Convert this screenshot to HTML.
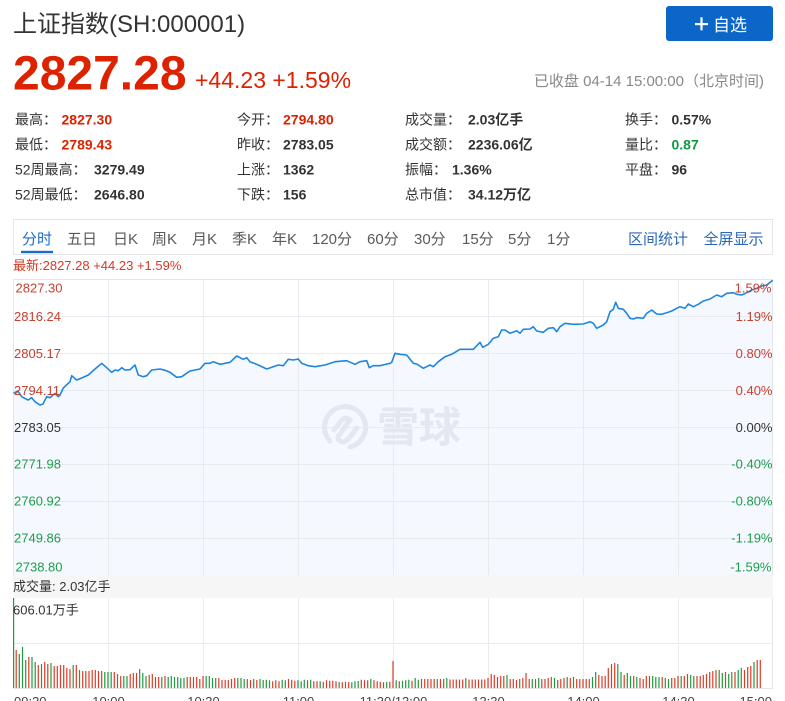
<!DOCTYPE html>
<html><head><meta charset="utf-8">
<style>
html,body{margin:0;padding:0;background:#fff;width:785px;height:701px;overflow:hidden}
svg{display:block}
text{font-family:"Liberation Sans","Noto Sans CJK SC",sans-serif}
.lb{font-size:14px;fill:#333}
.vb{font-size:14px;fill:#333;font-weight:bold}
.tab{font-size:15px;fill:#5a5a5a}
.ax{font-size:13px}
.r{fill:#c8402e}
.g{fill:#1f9d4a}
.tm{font-size:13px;fill:#444}
</style></head><body>
<svg width="785" height="701" viewBox="0 0 785 701" xmlns="http://www.w3.org/2000/svg">
<!-- header -->
<text x="13" y="32" style="font-size:24px;fill:#333">上证指数(SH:000001)</text>
<rect x="666" y="6" width="107" height="35" rx="3" fill="#0b66c8"/>
<rect x="695" y="23" width="13" height="2.2" fill="#fff"/>
<rect x="700.4" y="17.3" width="2.2" height="13" fill="#fff"/>
<text x="713" y="31" style="font-size:17px;fill:#fff">自选</text>
<text x="13" y="89.5" style="font-size:48px;font-weight:bold;fill:#dd2200">2827.28</text>
<text x="195" y="88" style="font-size:23px;fill:#dd2200">+44.23 +1.59%</text>
<text x="764" y="86" text-anchor="end" style="font-size:15px;fill:#888">已收盘 04-14 15:00:00（北京时间)</text>

<!-- stats -->
<text class="lb" x="15" y="124.5">最高：</text><text class="vb" x="61.5" y="124.5" style="fill:#dd2200">2827.30</text>
<text class="lb" x="15" y="149.5">最低：</text><text class="vb" x="61.5" y="149.5" style="fill:#dd2200">2789.43</text>
<text class="lb" x="15" y="174.5">52周最高：</text><text class="vb" x="94" y="174.5">3279.49</text>
<text class="lb" x="15" y="199.5">52周最低：</text><text class="vb" x="94" y="199.5">2646.80</text>

<text class="lb" x="237" y="124.5">今开：</text><text class="vb" x="283" y="124.5" style="fill:#dd2200">2794.80</text>
<text class="lb" x="237" y="149.5">昨收：</text><text class="vb" x="283" y="149.5">2783.05</text>
<text class="lb" x="237" y="174.5">上涨：</text><text class="vb" x="283" y="174.5">1362</text>
<text class="lb" x="237" y="199.5">下跌：</text><text class="vb" x="283" y="199.5">156</text>

<text class="lb" x="405" y="124.5">成交量：</text><text class="vb" x="468" y="124.5">2.03亿手</text>
<text class="lb" x="405" y="149.5">成交额：</text><text class="vb" x="468" y="149.5">2236.06亿</text>
<text class="lb" x="405" y="174.5">振幅：</text><text class="vb" x="452" y="174.5">1.36%</text>
<text class="lb" x="405" y="199.5">总市值：</text><text class="vb" x="468" y="199.5">34.12万亿</text>

<text class="lb" x="625" y="124.5">换手：</text><text class="vb" x="671.5" y="124.5">0.57%</text>
<text class="lb" x="625" y="149.5">量比：</text><text class="vb" x="671.5" y="149.5" style="fill:#119944">0.87</text>
<text class="lb" x="625" y="174.5">平盘：</text><text class="vb" x="671.5" y="174.5">96</text>

<!-- tabs -->
<rect x="13.5" y="219.5" width="759" height="35" fill="#fff" stroke="#e6e6e6"/>
<text class="tab" x="22" y="244" style="fill:#1a6ec9">分时</text>
<rect x="21" y="250.8" width="32" height="2.4" fill="#1a6ec9"/>
<text class="tab" x="67" y="244">五日</text>
<text class="tab" x="113" y="244">日K</text>
<text class="tab" x="152" y="244">周K</text>
<text class="tab" x="192" y="244">月K</text>
<text class="tab" x="232" y="244">季K</text>
<text class="tab" x="272" y="244">年K</text>
<text class="tab" x="312" y="244">120分</text>
<text class="tab" x="367" y="244">60分</text>
<text class="tab" x="414" y="244">30分</text>
<text class="tab" x="462" y="244">15分</text>
<text class="tab" x="508" y="244">5分</text>
<text class="tab" x="547" y="244">1分</text>
<text class="tab" x="628" y="244" style="fill:#2c67b3">区间统计</text>
<text class="tab" x="703.5" y="244" style="fill:#2c67b3">全屏显示</text>

<text x="13" y="270" style="font-size:13px;fill:#d23a26">最新:2827.28 +44.23 +1.59%</text>

<!-- price chart -->
<path d="M13.3 393.3L18 391L21.7 396.7L28 400L31.7 397.7L35 401.7L40 405L43 404L46.7 396.7L50 397.7L55 393.3L58.3 396.7L60 395L63.3 388L70 381.7L71.7 375.7L76.7 380L81.7 378L88.3 375L95 369L101.7 363.3L106.7 367.7L111.7 372.3L115 370L118.3 370.7L121.7 367.7L125 370L130 369.7L135 365L138.3 375L143.3 376.7L146.7 375.7L151.7 370L160 369L165 370.3L170 372.3L176.7 377.3L181.7 376.7L190 371L200 369L205 363.3L210 363.3L213.3 361.7L220 364.3L230 362.3L236.7 356L243.3 359.3L246.7 357.7L250 361.7L258.3 365L266.7 369L273.3 366.7L278.3 365L283.3 365.7L288.3 359.3L293.3 360L298.3 359L301.7 363.3L308.3 365.7L315 366.7L325 365L335 361.7L346.7 360.7L355 364.3L360 361.7L366.7 360.7L369.3 367.7L373.3 365.7L380 365.7L390 363.3L391.7 362.3L395 353.3L400 354.3L406.7 355L413.3 363.3L416.7 364L423.3 368.3L430 365L433.3 366.7L438.3 361.7L445 356.7L451.7 354.3L460 349.3L473.3 349.3L480 342.3L482.7 347.3L488.3 344.3L493.3 338.3L498.3 336.7L501.7 330L505 330L510 333.3L516.7 330.7L520 333.3L523.3 329.3L530 329L533.3 326.7L536.7 331L543.3 332.3L548.3 328.3L553.3 327.7L556.7 331.7L560 326.7L565 323.3L573.3 324.3L583.3 324L590 321.7L593.3 323.3L596.7 328.3L603.3 325L606.7 321.7L610 311.7L613.3 309.3L615.7 302.3L618.3 308.3L623.3 309.3L626.7 313.3L630 318.3L633.3 319L636.7 317.7L643.3 318.3L646.7 313.3L651.7 310L656.7 314L661.7 314.3L666.7 312.7L671.7 311L676.7 308.3L680 306.7L685 308.3L688.3 304L693.3 306.7L698.3 304.3L703.3 301L710 299L716.7 295L721.7 296.7L726.7 293.3L733.3 292.7L736.7 294.3L741.7 295L746.7 292.7L751.7 290L756.7 288.3L761.7 286L766.7 285L772.7 280.3L773 280L773 575L13 575Z" fill="#f5f8fe"/>
<g stroke="#e8ebf0" stroke-width="1" fill="none">
<path d="M13 316.5H773M13 353.5H773M13 390.5H773M13 427.5H773M13 464.5H773M13 501.5H773M13 538.5H773"/>
<path d="M108.5 279V575M203.5 279V575M298.5 279V575M393.5 279V575M488.5 279V575M583.5 279V575M678.5 279V575"/>
<path d="M108.5 598V688M203.5 598V688M298.5 598V688M393.5 598V688M488.5 598V688M583.5 598V688M678.5 598V688M13 643.5H773"/>
</g>
<g stroke="#e3e6ea" stroke-width="1" fill="none">
<path d="M13 279.5H773M13.5 279V688M772.5 279V688M13 688.5H773"/>
</g>
<!-- watermark -->
<g fill="none" stroke="#e3e7ef" stroke-width="5" stroke-linecap="round">
<path d="M330 441A20.5 20.5 0 1 1 350 447"/>
<path d="M334 430L342 420Q346 416 350 420L340 434Q336 438 340 441Q344 444 350 437L357 428"/>
</g>
<text x="377" y="442" style="font-size:42px;font-weight:bold;fill:#e3e7ef">雪球</text>

<path d="M13.3 393.3L18 391L21.7 396.7L28 400L31.7 397.7L35 401.7L40 405L43 404L46.7 396.7L50 397.7L55 393.3L58.3 396.7L60 395L63.3 388L70 381.7L71.7 375.7L76.7 380L81.7 378L88.3 375L95 369L101.7 363.3L106.7 367.7L111.7 372.3L115 370L118.3 370.7L121.7 367.7L125 370L130 369.7L135 365L138.3 375L143.3 376.7L146.7 375.7L151.7 370L160 369L165 370.3L170 372.3L176.7 377.3L181.7 376.7L190 371L200 369L205 363.3L210 363.3L213.3 361.7L220 364.3L230 362.3L236.7 356L243.3 359.3L246.7 357.7L250 361.7L258.3 365L266.7 369L273.3 366.7L278.3 365L283.3 365.7L288.3 359.3L293.3 360L298.3 359L301.7 363.3L308.3 365.7L315 366.7L325 365L335 361.7L346.7 360.7L355 364.3L360 361.7L366.7 360.7L369.3 367.7L373.3 365.7L380 365.7L390 363.3L391.7 362.3L395 353.3L400 354.3L406.7 355L413.3 363.3L416.7 364L423.3 368.3L430 365L433.3 366.7L438.3 361.7L445 356.7L451.7 354.3L460 349.3L473.3 349.3L480 342.3L482.7 347.3L488.3 344.3L493.3 338.3L498.3 336.7L501.7 330L505 330L510 333.3L516.7 330.7L520 333.3L523.3 329.3L530 329L533.3 326.7L536.7 331L543.3 332.3L548.3 328.3L553.3 327.7L556.7 331.7L560 326.7L565 323.3L573.3 324.3L583.3 324L590 321.7L593.3 323.3L596.7 328.3L603.3 325L606.7 321.7L610 311.7L613.3 309.3L615.7 302.3L618.3 308.3L623.3 309.3L626.7 313.3L630 318.3L633.3 319L636.7 317.7L643.3 318.3L646.7 313.3L651.7 310L656.7 314L661.7 314.3L666.7 312.7L671.7 311L676.7 308.3L680 306.7L685 308.3L688.3 304L693.3 306.7L698.3 304.3L703.3 301L710 299L716.7 295L721.7 296.7L726.7 293.3L733.3 292.7L736.7 294.3L741.7 295L746.7 292.7L751.7 290L756.7 288.3L761.7 286L766.7 285L772.7 280.3" fill="none" stroke="#1f86df" stroke-width="1.6" stroke-linejoin="round"/>

<!-- axis labels -->
<text class="ax r" x="15.5" y="292.3">2827.30</text>
<text class="ax r" x="14" y="321">2816.24</text>
<text class="ax r" x="14" y="358">2805.17</text>
<text class="ax r" x="14" y="395">2794.11</text>
<text class="ax" x="14" y="432" style="fill:#333">2783.05</text>
<text class="ax g" x="14" y="468.5">2771.98</text>
<text class="ax g" x="14" y="505.5">2760.92</text>
<text class="ax g" x="14" y="542.5">2749.86</text>
<text class="ax g" x="15.5" y="571.7">2738.80</text>

<text class="ax r" x="771.5" y="292.3" text-anchor="end">1.59%</text>
<text class="ax r" x="772.5" y="321" text-anchor="end">1.19%</text>
<text class="ax r" x="772.5" y="358" text-anchor="end">0.80%</text>
<text class="ax r" x="772.5" y="395" text-anchor="end">0.40%</text>
<text class="ax" x="772.5" y="432" text-anchor="end" style="fill:#333">0.00%</text>
<text class="ax g" x="772.5" y="468.5" text-anchor="end">-0.40%</text>
<text class="ax g" x="772.5" y="505.5" text-anchor="end">-0.80%</text>
<text class="ax g" x="772.5" y="542.5" text-anchor="end">-1.19%</text>
<text class="ax g" x="771.5" y="571.7" text-anchor="end">-1.59%</text>

<!-- volume band -->
<rect x="13" y="575" width="760" height="23" fill="#f6f6f6"/>
<text x="13" y="591" style="font-size:13px;fill:#333">成交量: 2.03亿手</text>

<!-- volume bars -->
<path stroke="#dc3b27" stroke-width="1.2" fill="none" d="M16.2 688v-38M28.8 688v-31M38.3 688v-23M44.7 688v-26M47.8 688v-24M54.2 688v-22M57.3 688v-22M60.5 688v-23M63.7 688v-23M66.8 688v-20M70 688v-19M76.3 688v-23M82.7 688v-17M85.8 688v-17M89 688v-17M92.2 688v-18M95.3 688v-18M98.5 688v-17M101.7 688v-17M114.3 688v-16M120.7 688v-12M130.2 688v-14M133.3 688v-15M136.5 688v-15M149.2 688v-13M152.3 688v-14M155.5 688v-11M158.7 688v-11M165 688v-12M187.2 688v-11M190.3 688v-11M193.5 688v-11M196.7 688v-11M199.8 688v-9M203 688v-12M218.8 688v-10M222 688v-8M225.2 688v-8M228.3 688v-8M231.5 688v-9M234.7 688v-10M247.3 688v-9M250.5 688v-8M256.8 688v-8M272.7 688v-6.7M275.8 688v-7.7M279 688v-6.7M288.5 688v-9M291.7 688v-8.3M294.8 688v-7.3M307.5 688v-7.7M313.8 688v-6.7M317 688v-6.7M323.3 688v-6.3M326.5 688v-7.7M329.7 688v-7.3M332.8 688v-7.3M336 688v-6.7M342.3 688v-5.7M345.5 688v-6.3M348.7 688v-6M361.3 688v-8.3M364.5 688v-7.7M367.7 688v-7.7M374 688v-7.7M377.2 688v-6.7M380.3 688v-6M383.5 688v-5.7M389.8 688v-6.3M393 688v-27M399.3 688v-6.7M412 688v-7.3M421.5 688v-9M424.7 688v-9M427.8 688v-9M431 688v-9M434.2 688v-9M440.5 688v-9M443.7 688v-9M450 688v-8.5M453.2 688v-8.5M456.3 688v-8.5M459.5 688v-8.5M462.7 688v-8.5M469 688v-8.5M472.2 688v-8.5M475.3 688v-8.5M478.5 688v-8.5M481.7 688v-8.5M484.8 688v-8.5M488 688v-10M491.2 688v-14M494.3 688v-13M497.5 688v-11M500.7 688v-12M503.8 688v-12M510.2 688v-9M513.3 688v-9M516.5 688v-8M522.8 688v-10M526 688v-15M529.2 688v-9M535.5 688v-9M541.8 688v-9M545 688v-9M548.2 688v-10M551.3 688v-11M557.7 688v-8M560.8 688v-9M564 688v-10M570.3 688v-10M576.7 688v-9M579.8 688v-9M583 688v-9M586.2 688v-9M589.3 688v-9M598.8 688v-13M602 688v-12M605.2 688v-12M608.3 688v-20M611.5 688v-24M614.7 688v-25M624.2 688v-13M633.7 688v-12M640 688v-10M643.2 688v-9M646.3 688v-12M649.5 688v-12M662.2 688v-11M671.7 688v-10M674.8 688v-10M678 688v-12M684.3 688v-12M687.5 688v-14M697 688v-12M700.2 688v-12M703.3 688v-13M706.5 688v-14M709.7 688v-16M712.8 688v-17M716 688v-18M725.5 688v-16M735 688v-16M744.5 688v-18M747.7 688v-21M750.8 688v-22M757.2 688v-28M760.3 688v-28"/>
<path stroke="#1f9b40" stroke-width="1.2" fill="none" d="M13.6 688v-90M19.3 688v-34M22.5 688v-41M25.7 688v-28M32 688v-31M35.2 688v-26M41.5 688v-24M51 688v-25M73.2 688v-23M79.5 688v-18M104.8 688v-16M108 688v-16M111.2 688v-16M117.5 688v-14M123.8 688v-12M127 688v-12M139.7 688v-19M142.8 688v-15M146 688v-12M161.8 688v-11M168.2 688v-11M171.3 688v-12M174.5 688v-11M177.7 688v-11M180.8 688v-10M184 688v-10M206.2 688v-12M209.3 688v-12M212.5 688v-10M215.7 688v-10M237.8 688v-10M241 688v-10M244.2 688v-9M253.7 688v-9M260 688v-9M263.2 688v-8M266.3 688v-8.3M269.5 688v-7.7M282.2 688v-8.3M285.3 688v-7.7M298 688v-7.7M301.2 688v-6.7M304.3 688v-8.3M310.7 688v-8.3M320.2 688v-6.7M339.2 688v-6M351.8 688v-5.7M355 688v-6.7M358.2 688v-7M370.8 688v-9M386.7 688v-6M396.2 688v-7.7M402.5 688v-7.3M405.7 688v-7.7M408.8 688v-8.3M415.2 688v-10M418.3 688v-8.3M437.3 688v-9M446.8 688v-10M465.8 688v-10M507 688v-13M519.7 688v-9M532.3 688v-9M538.7 688v-10M554.5 688v-10M567.2 688v-11M573.5 688v-11M592.5 688v-11M595.7 688v-16M617.8 688v-24M621 688v-16M627.3 688v-15M630.5 688v-12M636.8 688v-11M652.7 688v-12M655.8 688v-11M659 688v-11M665.3 688v-10M668.5 688v-9M681.2 688v-12M690.7 688v-13M693.8 688v-12M719.2 688v-18M722.3 688v-15M728.7 688v-14M731.8 688v-16M738.2 688v-18M741.3 688v-20M754 688v-26"/>

<text x="13" y="614.3" style="font-size:13px;fill:#333">606.01万手</text>

<!-- time labels -->
<text class="tm" x="14" y="706">09:30</text>
<text class="tm" x="108.5" y="706" text-anchor="middle">10:00</text>
<text class="tm" x="203.5" y="706" text-anchor="middle">10:30</text>
<text class="tm" x="298.5" y="706" text-anchor="middle">11:00</text>
<text class="tm" x="393.5" y="706" text-anchor="middle">11:30/13:00</text>
<text class="tm" x="488.5" y="706" text-anchor="middle">13:30</text>
<text class="tm" x="583.5" y="706" text-anchor="middle">14:00</text>
<text class="tm" x="678.5" y="706" text-anchor="middle">14:30</text>
<text class="tm" x="772" y="706" text-anchor="end">15:00</text>
</svg>
</body></html>
